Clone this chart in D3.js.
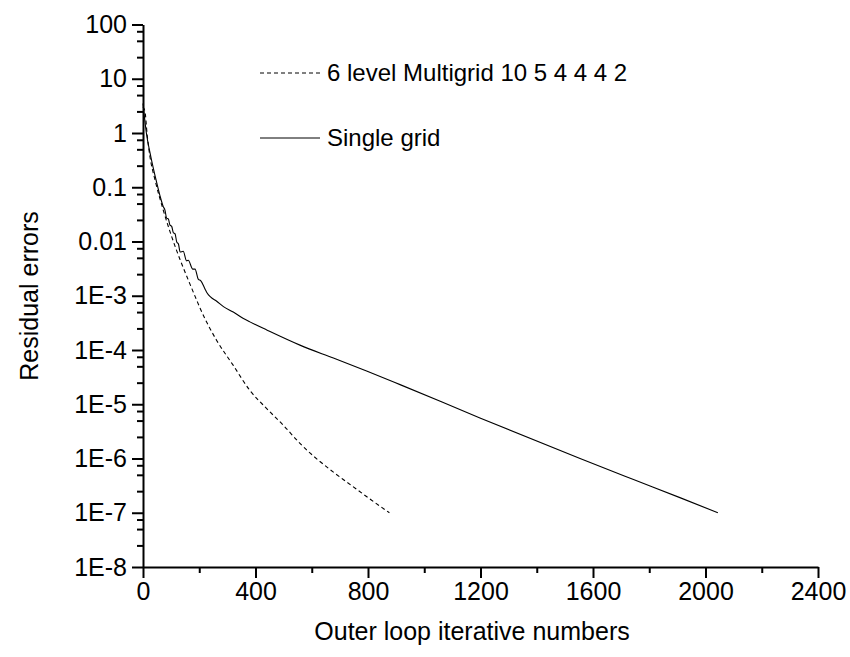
<!DOCTYPE html>
<html>
<head>
<meta charset="utf-8">
<script src="https://cdn.jsdelivr.net/npm/d3@7"></script>
<style>
  body { margin: 0; background: #fff; }
  text { font-family: Arial, "Liberation Sans", sans-serif; fill: #000; }
</style>
</head>
<body>
<div id="chart"></div>
<script>
// single grid residuals (solid line)
const iterSingle = [0, 5, 12, 25, 37, 49, 60, 72, 78, 84, 90, 96, 102, 108, 114, 120, 126, 132,
  143, 155, 161, 177, 185, 197, 205, 220, 228, 240, 262, 286, 321, 357, 380, 440, 558, 677,
  795, 914, 1198, 1554, 1744, 1909, 2044];
const residSingle = [3.5, 2.0, 1.0, 0.43, 0.22, 0.12, 0.071, 0.044, 0.038, 0.027, 0.026, 0.020,
  0.019, 0.0145, 0.0138, 0.0098, 0.0090, 0.0064,
  0.0066, 0.0044, 0.0045, 0.0031, 0.0031, 0.0020, 0.0019, 0.00135, 0.00112, 0.00095,
  7.9e-4, 6.3e-4, 5.0e-4, 3.8e-4, 3.3e-4, 2.34e-4, 1.23e-4, 7.1e-5,
  4.1e-5, 2.3e-5, 5.6e-6, 1.0e-6, 4.1e-7, 1.9e-7, 1.0e-7];

// 6 level multigrid residuals (dashed line)
const iterMulti = [0, 7, 15, 25, 43, 72, 102, 132, 161, 190, 203, 238, 262, 321, 380, 440,
  499, 558, 677, 724, 813, 876];
const residMulti = [3.0, 2.5, 0.9, 0.36, 0.135, 0.038, 0.0123, 0.0046, 0.00195, 8.5e-4,
  5.9e-4, 2.5e-4, 1.5e-4, 5.2e-5, 1.8e-5, 8.3e-6, 4.1e-6, 1.9e-6, 5.6e-7, 3.7e-7,
  1.7e-7, 1.0e-7];

const yTickValues = [100, 10, 1, 0.1, 0.01, 1e-3, 1e-4, 1e-5, 1e-6, 1e-7, 1e-8];
const yTickLabels = ["100", "10", "1", "0.1", "0.01", "1E-3", "1E-4", "1E-5", "1E-6", "1E-7", "1E-8"];
const yMinorSteps = [2.5, 5, 7.5];
const xTickValues = [0, 400, 800, 1200, 1600, 2000, 2400];
const xMinorValues = [200, 600, 1000, 1400, 1800, 2200];

const legendNames = ["6 level Multigrid 10 5 4 4 4 2", "Single grid"];

const width = 850, height = 657;
const svg = d3.select('#chart').append('svg')
  .attr('width', width)
  .attr('height', height);

const x = d3.scaleLinear().domain([0, 2400]).range([143, 818]);
const y = d3.scaleLog().domain([1e-8, 100]).range([567, 24.5]);

// minor ticks for log axis: 2.5, 5, 7.5 of every decade
const yMinorValues = [];
yTickValues.slice(1).forEach(d => {
  yMinorSteps.forEach(s => yMinorValues.push(d * s));
});

// x axis
svg.append('g')
  .attr('transform', `translate(0, 567)`)
  .call(d3.axisBottom(x).tickValues(xTickValues).tickSize(11).tickSizeOuter(0).tickPadding(4)
    .tickFormat(d3.format('d')));
svg.append('g')
  .attr('transform', `translate(0, 567)`)
  .call(d3.axisBottom(x).tickValues(xMinorValues).tickSize(6).tickFormat(''))
  .select('.domain').remove();

// y axis
svg.append('g')
  .attr('transform', `translate(143, 0)`)
  .call(d3.axisLeft(y).tickValues(yTickValues).tickSize(11).tickSizeOuter(0).tickPadding(5)
    .tickFormat((d, i) => yTickLabels[i]));
svg.append('g')
  .attr('transform', `translate(143, 0)`)
  .call(d3.axisLeft(y).tickValues(yMinorValues).tickSize(6).tickFormat(''))
  .select('.domain').remove();

svg.selectAll('.domain, .tick line')
  .attr('stroke', '#000')
  .attr('stroke-width', 2);
svg.selectAll('.tick text')
  .attr('font-size', 25)
  .attr('font-family', 'Arial, "Liberation Sans", sans-serif');

// axis titles
svg.append('text')
  .attr('x', 472)
  .attr('y', 640)
  .attr('text-anchor', 'middle')
  .attr('font-size', 25)
  .text('Outer loop iterative numbers');

svg.append('text')
  .attr('transform', 'translate(38, 296) rotate(-90)')
  .attr('text-anchor', 'middle')
  .attr('font-size', 25)
  .text('Residual errors');

// curves
const line = d3.line()
  .x(d => x(d[0]))
  .y(d => y(d[1]))
  .curve(d3.curveMonotoneX);

const multiData = iterMulti.map((d, i) => [d, residMulti[i]]);
const singleData = iterSingle.map((d, i) => [d, residSingle[i]]);

svg.append('path')
  .datum(multiData)
  .attr('d', line)
  .attr('fill', 'none')
  .attr('stroke', '#000')
  .attr('stroke-width', 1.1)
  .attr('stroke-dasharray', '4,3');

svg.append('path')
  .datum(singleData)
  .attr('d', line)
  .attr('fill', 'none')
  .attr('stroke', '#000')
  .attr('stroke-width', 1.1);

// legend
const legendY = [73, 138];
const legend = svg.append('g');
legendNames.forEach((name, i) => {
  legend.append('line')
    .attr('x1', 260).attr('x2', 320)
    .attr('y1', legendY[i]).attr('y2', legendY[i])
    .attr('stroke', '#000')
    .attr('stroke-width', 1)
    .attr('stroke-dasharray', i === 0 ? '4,3' : null);
  legend.append('text')
    .attr('x', 327)
    .attr('y', legendY[i])
    .attr('dy', '0.35em')
    .attr('font-size', 24)
    .text(name);
});
</script>
</body>
</html>
